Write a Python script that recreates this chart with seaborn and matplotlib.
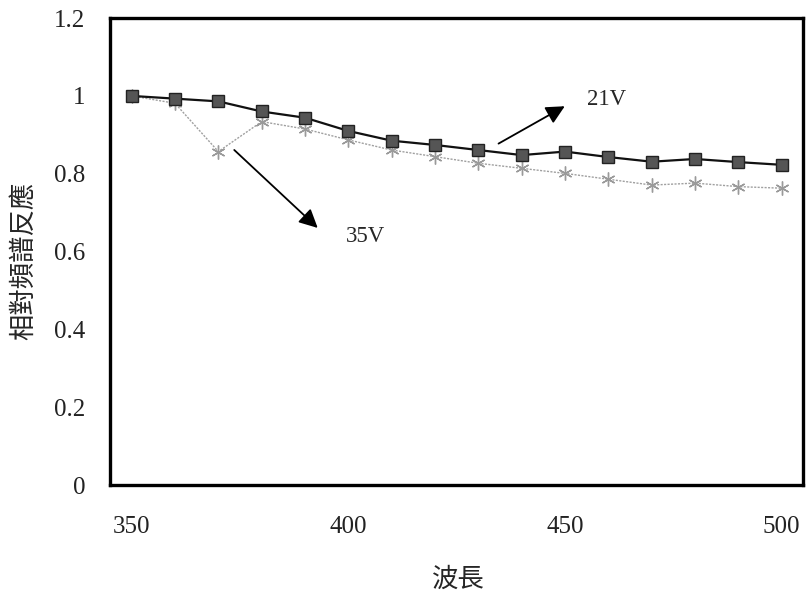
import pandas as pd
import matplotlib.pyplot as plt
import seaborn as sns

# relative spectral response
wavelength = [350, 360, 370, 380, 390, 400, 410, 420, 430, 440, 450, 460, 470, 480, 490, 500]
resp_21v = [1.0, 0.993, 0.986, 0.960, 0.944, 0.910, 0.885, 0.874, 0.861, 0.848,
            0.857, 0.843, 0.831, 0.838, 0.830, 0.823]
resp_35v = [1.0, 0.981, 0.857, 0.934, 0.915, 0.887, 0.861, 0.844, 0.827, 0.814,
            0.801, 0.786, 0.771, 0.776, 0.767, 0.763]

y_ticks = [0, 0.2, 0.4, 0.6, 0.8, 1.0, 1.2]
x_ticks = [350, 400, 450, 500]

df = pd.DataFrame({'wavelength': wavelength, '21V': resp_21v, '35V': resp_35v})

sns.set_theme(style="white")
plt.rcParams['font.family'] = ['Liberation Serif', 'Noto Sans CJK TC', 'DejaVu Sans']

fig = plt.figure(figsize=(8.09, 6.02), dpi=100)
ax = fig.add_axes([0.136, 0.194, 0.857, 0.776])

sns.lineplot(data=df, x='wavelength', y='35V', ax=ax, color='#a0a0a0', lw=1.0,
             linestyle=(0, (1.5, 1)), marker=(6, 2, 0), markersize=10,
             markeredgecolor='#9a9a9a', markeredgewidth=1.0)
sns.lineplot(data=df, x='wavelength', y='21V', ax=ax, color='#111111', lw=1.6,
             marker='s', markersize=8.5, markerfacecolor='#555555',
             markeredgecolor='#222222', markeredgewidth=1.0)

# arrows pointing at the series labels
ax.annotate('', xy=(450.5, 0.977), xytext=(434.1, 0.874),
            arrowprops=dict(arrowstyle='-|>', color='black', lw=1.3, mutation_scale=28))
ax.text(455, 0.99, '21V', fontsize=16.5, va='center', ha='left')
ax.annotate('', xy=(393.4, 0.656), xytext=(373.2, 0.866),
            arrowprops=dict(arrowstyle='-|>', color='black', lw=1.3, mutation_scale=28))
ax.text(399.4, 0.64, '35V', fontsize=16.5, va='center', ha='left')

ax.set_xlim(345, 505)
ax.set_ylim(0, 1.2)
ax.set_xticks(x_ticks)
ax.set_yticks(y_ticks)
ax.set_yticklabels([f'{v:g}' for v in y_ticks])
ax.tick_params(axis='x', length=0, pad=22, labelsize=18, colors='#222222')
ax.tick_params(axis='y', length=0, pad=18, labelsize=18, colors='#222222')

ax.set_xlabel('波長', fontsize=19, family=['Noto Sans CJK TC'])
ax.set_ylabel('相對頻譜反應', fontsize=19, family=['Noto Sans CJK TC'])
ax.xaxis.set_label_coords(0.503, -0.172)
ax.yaxis.set_label_coords(-0.106, 0.48)

for s in ax.spines.values():
    s.set_color('black')
    s.set_linewidth(2.4)

plt.savefig('out.png', dpi=100)
